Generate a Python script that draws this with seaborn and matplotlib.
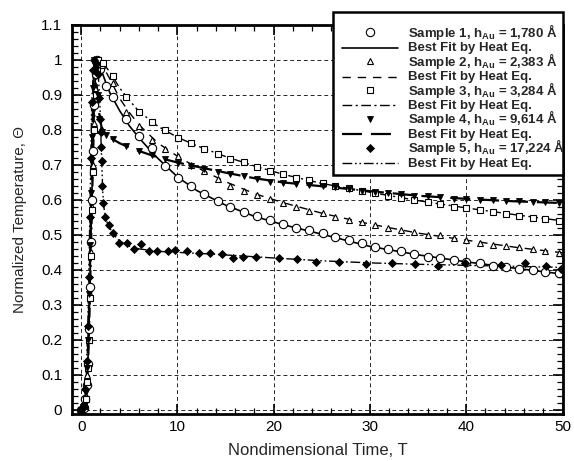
import matplotlib
matplotlib.use("Agg")
import matplotlib.pyplot as plt
from matplotlib.lines import Line2D
from matplotlib.patches import Rectangle
from matplotlib.ticker import MultipleLocator
import seaborn as sns
import pandas as pd

# ---------------- data ----------------
s1_t = [0.0, 0.25, 0.45, 0.6, 0.7, 0.8, 0.9, 1.0, 1.1, 1.2, 1.35, 1.5, 1.65,
        2.0, 2.6, 3.3, 4.7, 6.0, 7.4, 8.7, 10.1, 11.4, 12.8, 14.2, 15.5, 16.9, 18.3, 19.6,
        21.0, 22.3, 23.7, 25.1, 26.4, 27.8, 29.2, 30.5, 31.9, 33.2, 34.6, 36.0, 37.3,
        38.7, 40.0, 41.4, 42.8, 44.1, 45.5, 46.9, 48.2, 49.6]
s1_v = [0.0, 0.005, 0.03, 0.07, 0.13, 0.23, 0.35, 0.48, 0.60, 0.74, 0.87, 0.96, 1.0,
        0.975, 0.925, 0.895, 0.83, 0.783, 0.748, 0.697, 0.663, 0.641, 0.618, 0.598, 0.580,
        0.566, 0.553, 0.543, 0.530, 0.520, 0.513, 0.505, 0.493, 0.485, 0.476, 0.466, 0.459,
        0.453, 0.445, 0.437, 0.433, 0.428, 0.423, 0.419, 0.412, 0.408, 0.403, 0.399, 0.394, 0.390]

s2_t = [0.0, 0.3, 0.5, 0.65, 0.8, 0.9, 1.0, 1.1, 1.2, 1.3, 1.45, 1.6, 1.75,
        2.2, 3.3, 4.7, 6.0, 7.4, 8.7, 10.1, 11.4, 12.8, 14.2, 15.5, 16.9, 18.3, 19.6,
        21.0, 22.3, 23.7, 25.1, 26.4, 27.8, 29.2, 30.5, 31.9, 33.2, 34.6, 36.0, 37.3,
        38.7, 40.0, 41.4, 42.8, 44.1, 45.5, 46.9, 48.2, 49.6]
s2_v = [0.0, 0.01, 0.04, 0.10, 0.20, 0.33, 0.45, 0.58, 0.70, 0.82, 0.92, 0.98, 1.0,
        0.985, 0.935, 0.85, 0.81, 0.772, 0.745, 0.725, 0.700, 0.682, 0.660, 0.641, 0.626,
        0.615, 0.602, 0.592, 0.581, 0.569, 0.562, 0.552, 0.543, 0.536, 0.529, 0.520, 0.514,
        0.509, 0.500, 0.499, 0.491, 0.486, 0.477, 0.472, 0.467, 0.465, 0.460, 0.454, 0.449]

s3_t = [0.0, 0.3, 0.5, 0.65, 0.75, 0.85, 0.95, 1.05, 1.15, 1.25, 1.35, 1.5, 1.65, 1.8,
        2.3, 3.3, 4.7, 6.0, 7.4, 8.7, 10.1, 11.4, 12.8, 14.2, 15.5, 16.9, 18.3, 19.6,
        21.0, 22.3, 23.7, 25.1, 26.4, 27.8, 29.2, 30.5, 31.9, 33.2, 34.6, 36.0, 37.3,
        38.7, 40.0, 41.4, 42.8, 44.1, 45.5, 46.9, 48.2, 49.6]
s3_v = [0.0, 0.01, 0.03, 0.08, 0.12, 0.20, 0.32, 0.44, 0.57, 0.68, 0.80, 0.90, 0.97, 1.0,
        0.99, 0.955, 0.895, 0.852, 0.823, 0.800, 0.777, 0.762, 0.745, 0.730, 0.718, 0.707,
        0.694, 0.684, 0.673, 0.663, 0.656, 0.648, 0.641, 0.634, 0.626, 0.619, 0.612, 0.605,
        0.600, 0.594, 0.588, 0.581, 0.577, 0.571, 0.566, 0.560, 0.555, 0.549, 0.545, 0.541]

s4_t = [0.0, 0.3, 0.5, 0.65, 0.75, 0.85, 0.95, 1.05, 1.15, 1.25, 1.35, 1.5, 1.7, 1.9,
        2.2, 2.6, 3.3, 4.7, 6.0, 7.4, 8.7, 10.1, 11.4, 12.8, 14.2, 15.5, 16.9, 18.3, 19.6,
        21.0, 22.3, 23.7, 25.1, 26.4, 27.8, 29.2, 30.5, 31.9, 33.2, 34.6, 36.0, 37.3,
        38.7, 40.0, 41.4, 42.8, 44.1, 45.5, 46.9, 48.2, 49.6]
s4_v = [0.0, 0.01, 0.05, 0.12, 0.20, 0.33, 0.47, 0.62, 0.78, 0.92, 1.0, 0.97, 0.90, 0.83,
        0.795, 0.785, 0.775, 0.755, 0.741, 0.727, 0.716, 0.706, 0.697, 0.688, 0.680, 0.674,
        0.669, 0.659, 0.652, 0.649, 0.646, 0.643, 0.640, 0.636, 0.632, 0.626, 0.622, 0.620,
        0.616, 0.612, 0.610, 0.607, 0.604, 0.602, 0.601, 0.599, 0.598, 0.596, 0.594, 0.593, 0.592]

s5_t = [0.0, 0.25, 0.45, 0.6, 0.7, 0.8, 0.9, 1.0, 1.1, 1.2, 1.35, 1.55, 1.75, 1.9, 2.0,
        2.05, 2.1, 2.15, 2.2, 2.3, 2.45, 2.9, 3.3, 3.9, 4.8, 5.5, 6.2, 7.0, 7.9, 9.0, 9.8,
        11.0, 12.2, 13.4, 14.6, 15.8, 16.8, 18.2, 20.6, 22.4, 24.4, 26.8, 29.6, 32.3, 34.7,
        37.1, 39.9, 43.6, 46.1, 48.3, 49.8]
s5_v = [0.0, 0.01, 0.06, 0.14, 0.24, 0.38, 0.55, 0.72, 0.88, 0.97, 1.0, 0.99, 0.96, 0.89, 0.83,
        0.795, 0.75, 0.71, 0.64, 0.59, 0.55, 0.528, 0.505, 0.477, 0.477, 0.460, 0.474, 0.454,
        0.454, 0.454, 0.457, 0.454, 0.447, 0.447, 0.446, 0.434, 0.437, 0.437, 0.434, 0.430,
        0.423, 0.423, 0.417, 0.420, 0.417, 0.411, 0.420, 0.414, 0.420, 0.412, 0.402]

# best fits by heat equation
f1_t = [0.0, 0.3, 0.5, 0.7, 0.9, 1.1, 1.3, 1.5, 1.65, 2.0, 2.5, 3.0, 4.0, 5.0, 6.0, 7.0, 8.0,
        10.0, 12.0, 15.0, 18.0, 21.0, 25.0, 30.0, 35.0, 40.0, 45.0, 50.0]
f1_v = [0.0, 0.003, 0.03, 0.13, 0.35, 0.60, 0.83, 0.96, 1.0, 0.978, 0.94, 0.905, 0.855, 0.812,
        0.778, 0.747, 0.718, 0.666, 0.627, 0.585, 0.553, 0.529, 0.502, 0.467, 0.443, 0.423, 0.405, 0.388]
f2_t = [0.0, 0.3, 0.5, 0.8, 1.0, 1.2, 1.4, 1.6, 1.75, 2.2, 3.0, 4.0, 5.0, 6.0, 8.0, 10.0, 12.0,
        15.0, 18.0, 21.0, 25.0, 30.0, 35.0, 40.0, 45.0, 50.0]
f2_v = [0.0, 0.008, 0.04, 0.2, 0.45, 0.7, 0.88, 0.98, 1.0, 0.985, 0.945, 0.89, 0.85, 0.815,
        0.762, 0.725, 0.693, 0.652, 0.618, 0.592, 0.562, 0.531, 0.505, 0.485, 0.465, 0.449]
f3_t = [0.0, 0.3, 0.5, 0.75, 0.95, 1.15, 1.35, 1.55, 1.8, 2.3, 3.0, 4.0, 5.0, 6.0, 8.0, 10.0,
        12.0, 15.0, 18.0, 21.0, 25.0, 30.0, 35.0, 40.0, 45.0, 50.0]
f3_v = [0.0, 0.008, 0.03, 0.12, 0.32, 0.57, 0.80, 0.93, 1.0, 0.99, 0.965, 0.92, 0.885, 0.853,
        0.81, 0.779, 0.755, 0.724, 0.697, 0.673, 0.647, 0.622, 0.598, 0.577, 0.558, 0.540]
f4_t = [0.0, 0.3, 0.5, 0.75, 0.95, 1.15, 1.35, 1.55, 1.8, 2.1, 2.5, 3.0, 4.0, 5.0, 6.0, 8.0,
        10.0, 12.0, 15.0, 18.0, 21.0, 25.0, 30.0, 35.0, 40.0, 45.0, 50.0]
f4_v = [0.0, 0.01, 0.05, 0.2, 0.47, 0.78, 1.0, 0.955, 0.86, 0.81, 0.79, 0.778, 0.762, 0.75,
        0.74, 0.721, 0.707, 0.695, 0.678, 0.662, 0.650, 0.639, 0.625, 0.612, 0.603, 0.596, 0.591]
f5_t = [0.0, 0.25, 0.45, 0.7, 0.9, 1.1, 1.35, 1.6, 1.8, 1.95, 2.1, 2.25, 2.4, 2.7, 3.0, 3.5,
        4.0, 5.0, 6.0, 8.0, 10.0, 13.0, 16.0, 20.0, 25.0, 30.0, 35.0, 40.0, 45.0, 50.0]
f5_v = [0.0, 0.01, 0.06, 0.24, 0.55, 0.88, 1.0, 0.985, 0.95, 0.87, 0.74, 0.62, 0.57, 0.535,
        0.518, 0.497, 0.482, 0.468, 0.46, 0.453, 0.45, 0.446, 0.441, 0.434, 0.426, 0.420,
        0.416, 0.413, 0.410, 0.407]

labels_sample = ["Sample 1, h$_{Au}$ = 1,780 Å", "Sample 2, h$_{Au}$ = 2,383 Å",
                 "Sample 3, h$_{Au}$ = 3,284 Å", "Sample 4, h$_{Au}$ = 9,614 Å",
                 "Sample 5, h$_{Au}$ = 17,224 Å"]
label_fit = "Best Fit by Heat Eq."
x_ticks = [0, 10, 20, 30, 40, 50]
y_ticks = [0, 0.1, 0.2, 0.3, 0.4, 0.5, 0.6, 0.7, 0.8, 0.9, 1.0, 1.1]
y_ticklabels = ["0", "0.1", "0.2", "0.3", "0.4", "0.5", "0.6", "0.7", "0.8", "0.9", "1", "1.1"]

# ---------------- style ----------------
sns.set_style("ticks")
plt.rcParams["font.family"] = ["Liberation Sans", "DejaVu Sans"]
plt.rcParams["mathtext.default"] = "regular"

W, H = 574, 461
AX_L, AX_R, AX_T, AX_B = 72, 563, 25, 414
fig = plt.figure(figsize=(W / 100, H / 100), dpi=100)
ax = fig.add_axes([AX_L / W, 1 - AX_B / H, (AX_R - AX_L) / W, (AX_B - AX_T) / H])

markers = [
    dict(marker="o", markersize=6.0, markerfacecolor="white", markeredgecolor="black", markeredgewidth=0.8),
    dict(marker="^", markersize=5.0, markerfacecolor="white", markeredgecolor="black", markeredgewidth=0.8),
    dict(marker="s", markersize=4.5, markerfacecolor="white", markeredgecolor="black", markeredgewidth=0.8),
    dict(marker="v", markersize=5.0, markerfacecolor="black", markeredgecolor="black", markeredgewidth=0.6),
    dict(marker="D", markersize=4.2, markerfacecolor="black", markeredgecolor="black", markeredgewidth=0.6),
]
line_styles = [
    dict(linestyle="-", linewidth=1.2),
    dict(linestyle=(0, (6, 5)), linewidth=1.0),
    dict(linestyle=(0, (7, 2.5, 1.5, 2.5)), linewidth=1.0),
    dict(linestyle=(0, (9, 4)), linewidth=1.6),
    dict(linestyle=(0, (7, 2, 1.2, 2, 1.2, 2)), linewidth=1.0),
]

samples = [(s1_t, s1_v), (s2_t, s2_v), (s3_t, s3_v), (s4_t, s4_v), (s5_t, s5_v)]
fits = [(f1_t, f1_v), (f2_t, f2_v), (f3_t, f3_v), (f4_t, f4_v), (f5_t, f5_v)]

for (ft, fv), ls in zip(fits, line_styles):
    df = pd.DataFrame({"T": ft, "Theta": fv})
    sns.lineplot(data=df, x="T", y="Theta", ax=ax, color="black", sort=False,
                 estimator=None, legend=False, **ls)

for (st, sv), mk in zip(samples, markers):
    df = pd.DataFrame({"T": st, "Theta": sv})
    sns.lineplot(data=df, x="T", y="Theta", ax=ax, color="black", sort=False,
                 estimator=None, legend=False, linestyle="none", **mk)

ax.set_xlim(-0.95, 50.05)
ax.set_ylim(-0.012, 1.1)
ax.set_xticks(x_ticks)
ax.set_yticks(y_ticks)
ax.set_yticklabels(y_ticklabels)
ax.xaxis.set_minor_locator(MultipleLocator(2))
ax.yaxis.set_minor_locator(MultipleLocator(0.02))
ax.tick_params(which="both", direction="in", top=True, right=True, colors="black",
               labelsize=11)
ax.tick_params(which="major", length=7, width=1.2)
ax.tick_params(which="minor", length=4, width=0.9)
ax.tick_params(axis="x", which="major", pad=4.5)
ax.tick_params(axis="y", which="major", pad=7)
ax.grid(True, which="major", color="black", linestyle=(0, (4, 3)), linewidth=0.7, alpha=0.85)
for sp in ax.spines.values():
    sp.set_linewidth(2.0)
    sp.set_color("black")
ax.set_xlabel("Nondimensional Time, T", fontsize=12, labelpad=6)
ax.set_ylabel("Normalized Temperature, Θ", fontsize=11, labelpad=10)

# ---------------- legend box (drawn in axes coordinates) ----------------
def axx(px):
    return (px - AX_L) / (AX_R - AX_L)

def axy(py):
    return (AX_B - py) / (AX_B - AX_T)

box_l, box_r, box_t, box_b = 333, 563, 12, 175
ax.add_patch(Rectangle((axx(box_l), axy(box_b)), axx(box_r) - axx(box_l), axy(box_t) - axy(box_b),
                       transform=ax.transAxes, facecolor="white", edgecolor="black",
                       linewidth=1.8, zorder=10, clip_on=False))
row_labels, row_handles = [], []
for lab, mk, ls in zip(labels_sample, markers, line_styles):
    row_labels += [lab, label_fit]
    row_handles += [("m", mk), ("l", ls)]
for i, (lab, (kind, st)) in enumerate(zip(row_labels, row_handles)):
    base = 37.0 + 14.4 * i
    yc = base - 4.5
    if kind == "m":
        ax.add_line(Line2D([axx(370)], [axy(yc)], color="black", linestyle="none",
                           transform=ax.transAxes, clip_on=False, zorder=11, **st))
    else:
        ax.add_line(Line2D([axx(342), axx(398)], [axy(yc + 1), axy(yc + 1)], color="black",
                           transform=ax.transAxes, clip_on=False, zorder=11, **st))
    ax.text(axx(408), axy(base), lab, transform=ax.transAxes, ha="left", va="baseline",
            fontsize=9.5, fontweight="bold", zorder=12, clip_on=False)

fig.savefig("out.png", dpi=100)
